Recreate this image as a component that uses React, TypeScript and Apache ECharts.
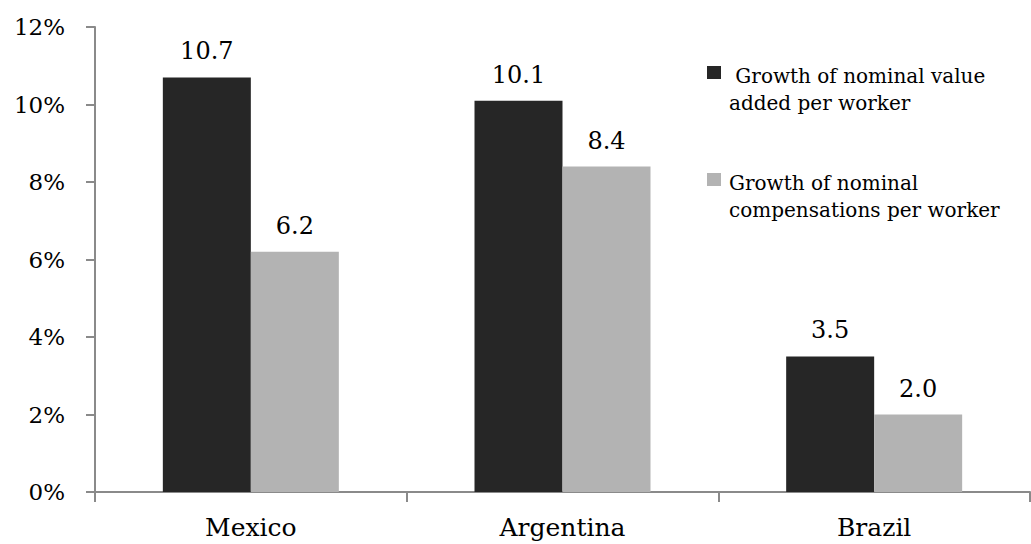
import React, { useEffect, useRef } from "react";
import * as echarts from "echarts";

// Countries on the category axis
const countries = ["Mexico", "Argentina", "Brazil"];

// Average annual growth, in percent
const valueAddedGrowth = [10.7, 10.1, 3.5];
const compensationGrowth = [6.2, 8.4, 2.0];

// Legend entries (multi-line)
const legendValueAdded = [" Growth of nominal value", "added per worker"];
const legendCompensation = ["Growth of nominal", "compensations per worker"];

// Value axis
const yMin = 0;
const yMax = 12;
const yStep = 2;

const DARK = "#262626";
const LIGHT = "#b3b3b3";
const AXIS = "#8a8a8a";
const FONT = "DejaVu Serif";

export default function App() {
  const ref = useRef<HTMLDivElement>(null);

  useEffect(() => {
    if (!ref.current) return;
    const chart = echarts.init(ref.current, undefined, { renderer: "svg" });

    const labelStyle = {
      show: true,
      position: "top" as const,
      distance: 14,
      color: "#000",
      fontFamily: FONT,
      fontSize: 24,
      formatter: (p: any) => Number(p.value).toFixed(1),
    };

    chart.setOption({
      animation: false,
      backgroundColor: "#fff",
      textStyle: { fontFamily: FONT },
      grid: { left: 95, right: 1, top: 27, bottom: 52, containLabel: false },
      xAxis: {
        type: "category",
        data: countries,
        axisLine: { show: true, lineStyle: { color: AXIS, width: 2 } },
        axisTick: { show: true, length: 10, lineStyle: { color: AXIS, width: 2 } },
        axisLabel: { color: "#000", fontFamily: FONT, fontSize: 25, margin: 23 },
        splitLine: { show: false },
      },
      yAxis: {
        type: "value",
        min: yMin,
        max: yMax,
        interval: yStep,
        axisLine: { show: true, lineStyle: { color: AXIS, width: 2 } },
        axisTick: { show: true, length: 9, lineStyle: { color: AXIS, width: 2 } },
        axisLabel: {
          color: "#000",
          fontFamily: FONT,
          fontSize: 23,
          margin: 30,
          formatter: "{value}%",
        },
        splitLine: { show: false },
      },
      series: [
        {
          name: legendValueAdded.join(" ").trim(),
          type: "bar",
          data: valueAddedGrowth,
          barWidth: 88,
          barGap: "0%",
          itemStyle: { color: DARK },
          label: labelStyle,
        },
        {
          name: legendCompensation.join(" "),
          type: "bar",
          data: compensationGrowth,
          barWidth: 88,
          barGap: "0%",
          itemStyle: { color: LIGHT },
          label: labelStyle,
        },
      ],
      graphic: [
        {
          type: "group",
          left: 707,
          top: 62,
          children: [
            { type: "rect", shape: { x: 0, y: 4, width: 14, height: 13 }, style: { fill: DARK } },
            {
              type: "text",
              x: 22,
              y: 0,
              style: {
                text: legendValueAdded.join("\n"),
                fill: "#000",
                font: `20px "${FONT}"`,
                lineHeight: 27,
                verticalAlign: "top",
              },
            },
          ],
        },
        {
          type: "group",
          left: 707,
          top: 169,
          children: [
            { type: "rect", shape: { x: 0, y: 4, width: 14, height: 13 }, style: { fill: LIGHT } },
            {
              type: "text",
              x: 22,
              y: 0,
              style: {
                text: legendCompensation.join("\n"),
                fill: "#000",
                font: `20px "${FONT}"`,
                lineHeight: 27,
                verticalAlign: "top",
              },
            },
          ],
        },
      ],
    });

    return () => chart.dispose();
  }, []);

  return (
    <div
      ref={ref}
      style={{ position: "fixed", left: 0, top: 0, width: 1031, height: 544, background: "#fff" }}
    />
  );
}
